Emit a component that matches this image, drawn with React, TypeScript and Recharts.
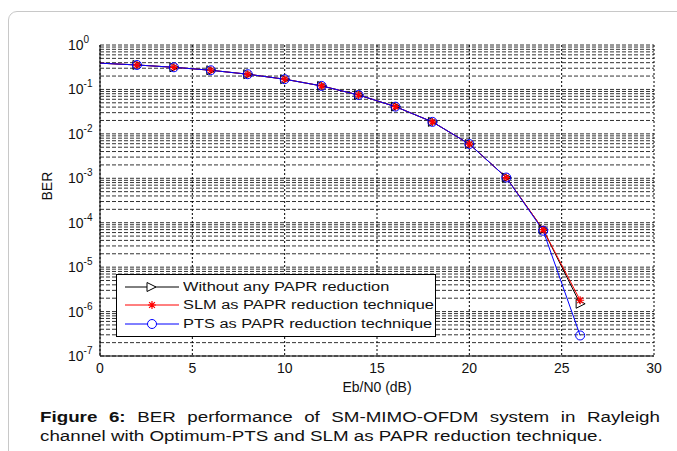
import React from 'react';
import { LineChart, Line, XAxis, YAxis, CartesianGrid } from 'recharts';

const snr = [0, 2, 4, 6, 8, 10, 12, 14, 16, 18, 20, 22, 24, 26];
const berWithout = [0.39, 0.355, 0.315, 0.27, 0.22, 0.17, 0.12, 0.075, 0.041, 0.0186, 0.0059, 1.04e-3, 7.0e-5, 1.5e-6];
const berSLM = [0.39, 0.355, 0.315, 0.27, 0.22, 0.17, 0.12, 0.075, 0.041, 0.0186, 0.0059, 1.04e-3, 7.0e-5, 1.8e-6];
const berPTS = [0.39, 0.355, 0.315, 0.27, 0.22, 0.17, 0.12, 0.075, 0.041, 0.0186, 0.0059, 1.04e-3, 6.6e-5, 2.9e-7];

const xTicks = [0, 5, 10, 15, 20, 25, 30];
const decadeExps = [-7, -6, -5, -4, -3, -2, -1, 0];
const seriesNames = [
  'Without any PAPR reduction',
  'SLM as PAPR reduction technique',
  'PTS as PAPR reduction technique',
];
const captionBold = 'Figure 6:';
const captionLine1 = ' BER performance of SM-MIMO-OFDM system in Rayleigh';
const captionLine2 = 'channel with Optimum-PTS and SLM as PAPR reduction technique.';

const data = snr.map((x, i) => ({ x, none: berWithout[i], slm: berSLM[i], pts: berPTS[i] }));

const yTicks: number[] = [];
decadeExps.forEach((e) => {
  if (e === 0) {
    yTicks.push(1);
  } else {
    for (let m = 1; m <= 9; m++) yTicks.push(m * Math.pow(10, e));
  }
});

const FONT = '"Liberation Sans", Arial, sans-serif';
const CAP_SCALE = 1.34;

const TriDot = (p: any) => {
  const { cx, cy, payload, index } = p;
  if (payload.x === 0 || cx == null) return <g key={'t' + index} />;
  return (
    <path key={'t' + index} d={`M${cx - 4},${cy - 4.5} L${cx + 5},${cy} L${cx - 4},${cy + 4.5} Z`} fill="none" stroke="#000" strokeWidth={1} />
  );
};
const StarDot = (p: any) => {
  const { cx, cy, payload, index } = p;
  if (payload.x === 0 || cx == null) return <g key={'s' + index} />;
  const r = 4;
  const d = r * 0.72;
  return (
    <path key={'s' + index} d={`M${cx - r},${cy} L${cx + r},${cy} M${cx},${cy - r} L${cx},${cy + r} M${cx - d},${cy - d} L${cx + d},${cy + d} M${cx - d},${cy + d} L${cx + d},${cy - d}`} stroke="#ff0000" strokeWidth={1.2} fill="none" />
  );
};
const CircDot = (p: any) => {
  const { cx, cy, payload, index } = p;
  if (payload.x === 0 || cx == null) return <g key={'c' + index} />;
  return <circle key={'c' + index} cx={cx} cy={cy} r={4.5} fill="none" stroke="#0000ff" strokeWidth={1} />;
};

const YTick = (p: any) => {
  const { x, y, payload } = p;
  const v = payload.value;
  const e = Math.round(Math.log10(v));
  if (Math.abs(v - Math.pow(10, e)) > 1e-12 * Math.pow(10, e)) return <g />;
  return (
    <text x={x - 32} y={y} dominantBaseline="central" fontFamily={FONT} fontSize={14} fill="#111">
      10<tspan dy={-6} fontSize={10}>{e}</tspan>
    </text>
  );
};

const XTick = (p: any) => {
  const { x, y, payload } = p;
  return (
    <text x={x} y={y + 12} textAnchor="middle" dominantBaseline="central" fontFamily={FONT} fontSize={14} fill="#111">
      {payload.value}
    </text>
  );
};

const LegendSample = ({ color, kind }: { color: string; kind: string }) => (
  <svg width={54} height={14} style={{ display: 'block' }}>
    <line x1={0} y1={7} x2={54} y2={7} stroke={color} strokeWidth={1} />
    {kind === 'tri' && <path d="M22,2.5 L31,7 L22,11.5 Z" fill="#fff" stroke="#000" />}
    {kind === 'star' && (
      <path d="M23,7 L31,7 M27,3 L27,11 M24.1,4.1 L29.9,9.9 M24.1,9.9 L29.9,4.1" stroke="#ff0000" strokeWidth={1.2} />
    )}
    {kind === 'circ' && <circle cx={27} cy={7} r={4.5} fill="#fff" stroke="#0000ff" />}
  </svg>
);

export default function App() {
  const legendItems = [
    { name: seriesNames[0], color: '#000', kind: 'tri' },
    { name: seriesNames[1], color: '#ff0000', kind: 'star' },
    { name: seriesNames[2], color: '#0000ff', kind: 'circ' },
  ];
  return (
    <div style={{ position: 'absolute', left: 0, top: 0, width: 677, height: 451, background: '#fff', overflow: 'hidden', fontFamily: FONT }}>
      <div style={{ position: 'absolute', left: 8, top: 11, width: 720, height: 500, border: '1px solid #c8c8c8', borderRadius: 9 }} />
      <div style={{ position: 'absolute', left: 0, top: 0 }}>
        <LineChart width={677} height={451} data={data} margin={{ top: 45, right: 23, bottom: 55, left: 40 }}>
          <CartesianGrid horizontal={true} vertical={false} stroke="#333" strokeDasharray="4 2" />
          <CartesianGrid horizontal={false} vertical={true} stroke="#000" strokeDasharray="2 2" />
          <XAxis
            dataKey="x"
            type="number"
            domain={[0, 30]}
            ticks={xTicks}
            allowDataOverflow
            height={40}
            tickSize={0}
            tickMargin={0}
            tick={<XTick />}
            axisLine={{ stroke: '#000' }}
            label={{ value: 'Eb/N0 (dB)', position: 'insideBottom', offset: 4, fontFamily: FONT, fontSize: 14, fill: '#111' }}
          />
          <XAxis xAxisId="top" orientation="top" dataKey="x" type="number" domain={[0, 30]} height={0} tick={false} tickLine={false} axisLine={{ stroke: '#000' }} />
          <YAxis
            type="number"
            scale="log"
            domain={[1e-7, 1]}
            ticks={yTicks}
            allowDataOverflow
            width={60}
            tickSize={0}
            tickMargin={0}
            tick={<YTick />}
            interval={0}
            axisLine={{ stroke: '#000' }}
            label={{ value: 'BER', angle: -90, position: 'insideLeft', offset: 7, fontFamily: FONT, fontSize: 14, fill: '#111' }}
          />
          <YAxis yAxisId="right" orientation="right" type="number" scale="log" domain={[1e-7, 1]} width={0} tick={false} tickLine={false} axisLine={{ stroke: '#000' }} />
          <Line dataKey="none" stroke="#000" strokeWidth={1} dot={TriDot} activeDot={false} isAnimationActive={false} />
          <Line dataKey="slm" stroke="#ff0000" strokeWidth={1} dot={StarDot} activeDot={false} isAnimationActive={false} />
          <Line dataKey="pts" stroke="#0000ff" strokeWidth={1} dot={CircDot} activeDot={false} isAnimationActive={false} />
        </LineChart>
      </div>
      <div style={{ position: 'absolute', left: 116, top: 274, width: 318, height: 58, border: '1px solid #000', background: '#fff', paddingTop: 3 }}>
        {legendItems.map((it) => (
          <div key={it.name} style={{ display: 'flex', alignItems: 'center', height: 18.3 }}>
            <div style={{ marginLeft: 8 }}>
              <LegendSample color={it.color} kind={it.kind} />
            </div>
            <span style={{ marginLeft: 4, fontSize: 12.5, color: '#111', whiteSpace: 'nowrap', display: 'inline-block', transform: 'scaleX(1.31)', transformOrigin: 'left center' }}>{it.name}</span>
          </div>
        ))}
      </div>
      <div style={{ position: 'absolute', left: 40, top: 407.5, fontSize: 14, lineHeight: '19.3px', color: '#111' }}>
        <div style={{ width: 620 / CAP_SCALE, textAlign: 'justify', textAlignLast: 'justify', whiteSpace: 'nowrap', transform: `scaleX(${CAP_SCALE})`, transformOrigin: 'left center' }}>
          <b>{captionBold}</b>
          {captionLine1}
        </div>
        <div style={{ whiteSpace: 'nowrap', width: 620 / CAP_SCALE, transform: `scaleX(${CAP_SCALE})`, transformOrigin: 'left center' }}>{captionLine2}</div>
      </div>
    </div>
  );
}
